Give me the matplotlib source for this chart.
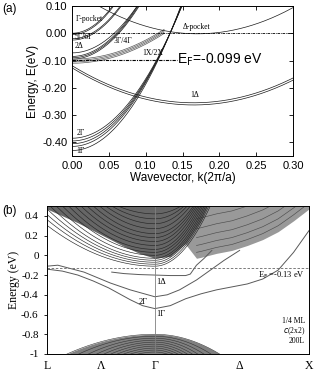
import numpy as np
import matplotlib.pyplot as plt

plt.rcParams['font.family'] = ['Liberation Sans', 'DejaVu Sans']

# -----------------------------
# Panel (a) data: band minima (eV) and curvatures (eV per (2pi/a)^2)
# -----------------------------
gamma_E0 = [-0.385, -0.395, -0.405, -0.415, -0.43]   # 1G / 2G group
gamma_curv = [21.8, 22.3, 22.9, 23.5, 24.3]
gpocket_E0 = [0.0, -0.005]                           # G-pocket
gpocket_curv = [33.0, 33.0]
g56_E0 = [-0.02, -0.025]                             # 5G/6G
g56_curv = [28.0, 28.0]
d2_E0 = [-0.072]                                     # 2D
d2_curv = [22.0]
g34_E0 = [-0.085, -0.09, -0.095]                     # 3G/4G
g34_curv = [23.5, 23.5, 23.5]
x12_E0 = [-0.095, -0.10, -0.105, -0.11]              # 1X/2X
x12_curv = [7.0, 7.0, 7.0, 7.0]
x12_kmax = 0.125
d1_Emin = [-0.255, -0.263]                           # 1D
d1_k0 = 0.165
d1_curv = 5.0
dpocket_Emin = -0.002                                # D-pocket
dpocket_k0 = 0.17
dpocket_curv = 5.7
EF_a = -0.099

# -----------------------------
# Panel (b) data
# -----------------------------
kL, kX = -0.7, 1.0
EF_b = -0.13
band_2G_k = [-0.7, -0.63, -0.46, -0.29, -0.16, 0.0, 0.08, 0.16, 0.27, 0.36, 0.45, 0.55]
band_2G_E = [-0.11, -0.10, -0.17, -0.28, -0.35, -0.42, -0.40, -0.35, -0.25, -0.15, -0.05, 0.05]
band_1G_k = [-0.7, -0.6, -0.5, -0.4, -0.3, -0.16, -0.08, 0.0, 0.1, 0.2, 0.3, 0.4, 0.5, 0.6, 0.7, 0.8, 0.9, 1.0]
band_1G_E = [-0.14, -0.16, -0.20, -0.26, -0.33, -0.45, -0.51, -0.54, -0.51, -0.44, -0.39, -0.35, -0.32, -0.29, -0.24, -0.15, 0.03, 0.25]
band_1D_k = [-0.28, -0.2, -0.1, 0.0, 0.1, 0.2, 0.23, 0.27, 0.32, 0.37]
band_1D_E = [-0.17, -0.185, -0.195, -0.20, -0.205, -0.205, -0.19, -0.10, -0.03, 0.05]
# conduction band lines: energy at Gamma, k where they reach 0.5 eV on the L and X sides
cb_EG = [-0.11, -0.09, -0.07, -0.05, -0.03, 0.0, 0.03, 0.06, 0.10, 0.14, 0.18, 0.22, 0.27, 0.32, 0.37, 0.42]
cb_kl = [-0.85, -0.80, -0.76, -0.72, -0.68, -0.64, -0.60, -0.56, -0.52, -0.48, -0.44, -0.40, -0.36, -0.32, -0.28, -0.24]
cb_kr = [0.36, 0.35, 0.34, 0.33, 0.32, 0.31, 0.30, 0.29, 0.28, 0.27, 0.26, 0.25, 0.23, 0.21, 0.19, 0.17]
# dark dense region (lower edge)
dark_k = [-0.7, -0.6, -0.5, -0.4, -0.3, -0.2, -0.1, 0.0, 0.1, 0.2, 0.3, 0.34]
dark_E = [0.47, 0.40, 0.33, 0.25, 0.17, 0.09, 0.02, -0.03, -0.01, 0.12, 0.35, 0.5]
# gray projected region on the Delta side (lower edge)
gray_k = [0.2, 0.27, 0.3, 0.4, 0.5, 0.6, 0.7, 0.8, 0.9, 1.0]
gray_E = [0.11, -0.03, -0.02, 0.02, 0.05, 0.10, 0.16, 0.24, 0.35, 0.47]
gray_lines = [0.06, 0.13, 0.21, 0.30, 0.40]
# valence band continuum
vb_EG = [-0.80, -0.82, -0.84, -0.86, -0.88, -0.90, -0.92, -0.94, -0.96, -0.98]
vb_kl = -0.57
vb_kr = 0.42

fig = plt.figure(figsize=(3.32, 3.74), dpi=100)

# -----------------------------
# Panel (a)
# -----------------------------
ax1 = fig.add_axes([0.217, 0.583, 0.666, 0.401])
k = np.linspace(0, 0.3, 601)
lw = 0.5


def para(e0, c, k0=0.0):
    return e0 + c * (k - k0) ** 2


for e0, c in zip(gamma_E0, gamma_curv):
    ax1.plot(k, para(e0, c), color='0.1', lw=lw)
for e0, c in zip(gpocket_E0, gpocket_curv):
    ax1.plot(k, para(e0, c), color='0.1', lw=lw)
for e0, c in zip(g56_E0, g56_curv):
    ax1.plot(k, para(e0, c), color='0.1', lw=lw)
for e0, c in zip(d2_E0, d2_curv):
    ax1.plot(k, para(e0, c), color='0.1', lw=lw)
for e0, c in zip(g34_E0, g34_curv):
    ax1.plot(k, para(e0, c), color='0.1', lw=lw)
kk = k <= x12_kmax
for e0, c in zip(x12_E0, x12_curv):
    ax1.plot(k[kk], para(e0, c)[kk], color='0.35', lw=lw)
for e0 in d1_Emin:
    ax1.plot(k, para(e0, d1_curv, d1_k0), color='0.1', lw=lw)
ax1.plot(k, para(dpocket_Emin, dpocket_curv, dpocket_k0), color='0.1', lw=lw)

ax1.axhline(0.0, color='k', lw=0.6, ls=(0, (3, 1, 1, 1)))
ax1.plot([0, 0.142], [EF_a, EF_a], color='k', lw=0.8, ls=(0, (3, 1, 1, 1)))
ax1.text(0.142, EF_a, 'E$_\\mathrm{F}$=-0.099 eV', fontsize=10, va='center', ha='left')

sfont = dict(family='Liberation Serif', fontsize=5.5)
ax1.text(0.005, 0.045, 'Γ-pocket', **sfont)
ax1.text(0.004, -0.022, '5Γ/6Γ', **sfont)
ax1.text(0.003, -0.055, '2Δ', **sfont)
ax1.text(0.057, -0.035, '3Γ/4Γ', **sfont)
ax1.text(0.095, -0.080, '1X/2X', **sfont)
ax1.text(0.16, -0.232, '1Δ', **sfont)
ax1.text(0.006, -0.372, '2Γ', **sfont)
ax1.text(0.006, -0.44, '1Γ', **sfont)
ax1.text(0.15, 0.015, 'Δ-pocket', **sfont)

ax1.set_xlim(0, 0.3)
ax1.set_ylim(-0.45, 0.10)
ax1.set_xticks(np.arange(0, 0.301, 0.05))
ax1.set_yticks([-0.4, -0.3, -0.2, -0.1, 0.0, 0.1])
ax1.set_xticklabels(['%.2f' % v for v in np.arange(0, 0.301, 0.05)])
ax1.set_yticklabels(['-0.40', '-0.30', '-0.20', '-0.10', '0.00', '0.10'])
ax1.tick_params(direction='in', top=True, right=True, labelsize=8, length=3, width=0.6)
ax1.set_xlabel('Wavevector, k(2π/a)', fontsize=8.5, labelpad=1)
ax1.set_ylabel('Energy, E(eV)', fontsize=8.5, labelpad=2)
for s in ax1.spines.values():
    s.set_linewidth(0.7)
fig.text(0.006, 0.977, '(a)', fontsize=8.5, va='center')

# -----------------------------
# Panel (b)
# -----------------------------
ax2 = fig.add_axes([0.1416, 0.0535, 0.789, 0.3957])
x = np.linspace(kL, kX, 800)
gcol = '0.35'


def vshape(eg, edge, kl, kr):
    s = np.where(x < 0, x / kl, x / kr)
    return eg + (edge - eg) * s ** 2


# valence band continuum
vb_top = vshape(vb_EG[0], -1.0, vb_kl, vb_kr)
ax2.fill_between(x, -1.0, vb_top, color='0.5', lw=0)
for e in vb_EG:
    ax2.plot(x, vshape(e, -1.0 - (vb_EG[0] - e) * 3, vb_kl, vb_kr), color='0.2', lw=0.4)

# gray projected region and its lines
ax2.fill_between(gray_k, gray_E, 0.5, color='0.6', lw=0)
for off in gray_lines:
    ax2.plot(gray_k[1:], np.array(gray_E[1:]) + off, color='0.3', lw=0.45)

# dark dense region
ax2.fill_between(dark_k, dark_E, 0.5, color='0.4', lw=0)
for e, kl, kr in zip(cb_EG, cb_kl, cb_kr):
    ax2.plot(x, vshape(e, 0.5, kl, kr), color='0.15', lw=0.45)

ax2.plot(band_2G_k, band_2G_E, color=gcol, lw=0.7)
ax2.plot(band_1G_k, band_1G_E, color=gcol, lw=0.7)
ax2.plot(band_1D_k, band_1D_E, color=gcol, lw=0.7)

ax2.axvline(0.0, color='0.5', lw=0.6)
ax2.axhline(EF_b, color='0.4', lw=0.6, ls=(0, (3, 2)))

serif = dict(family='Liberation Serif')
ax2.text(0.975, -0.2, 'E$_\\mathrm{F}$ =-0.13 eV', fontsize=6, ha='right', va='center', **serif)
ax2.text(0.01, -0.27, '1Δ', fontsize=6, ha='left', va='center', **serif)
ax2.text(-0.045, -0.47, '2Γ', fontsize=6, ha='right', va='center', **serif)
ax2.text(0.01, -0.59, '1Γ', fontsize=6, ha='left', va='center', **serif)
ax2.text(0.975, -0.77, '1/4 ML\n$c$(2x2)\n200L', fontsize=5.5, ha='right', va='center',
         linespacing=1.0, **serif)

ax2.set_xlim(kL, kX)
ax2.set_ylim(-1.0, 0.5)
ax2.set_yticks([-1, -0.8, -0.6, -0.4, -0.2, 0, 0.2, 0.4])
ax2.set_yticklabels(['-1', '-0.8', '-0.6', '-0.4', '-0.2', '0', '0.2', '0.4'], **serif)
ax2.set_xticks([kL, kL / 2, 0, 0.55, kX])
ax2.set_xticklabels(['L', 'Λ', 'Γ', 'Δ', 'X'], fontsize=8.5, **serif)
ax2.tick_params(axis='y', labelsize=8, length=2.5, width=0.6)
ax2.tick_params(axis='x', length=0, pad=4)
ax2.set_ylabel('Energy (eV)', fontsize=8.5, labelpad=1, **serif)
for s in ax2.spines.values():
    s.set_linewidth(0.7)
fig.text(0.008, 0.437, '(b)', fontsize=8.5, va='center')

fig.savefig('out.png', dpi=100)
